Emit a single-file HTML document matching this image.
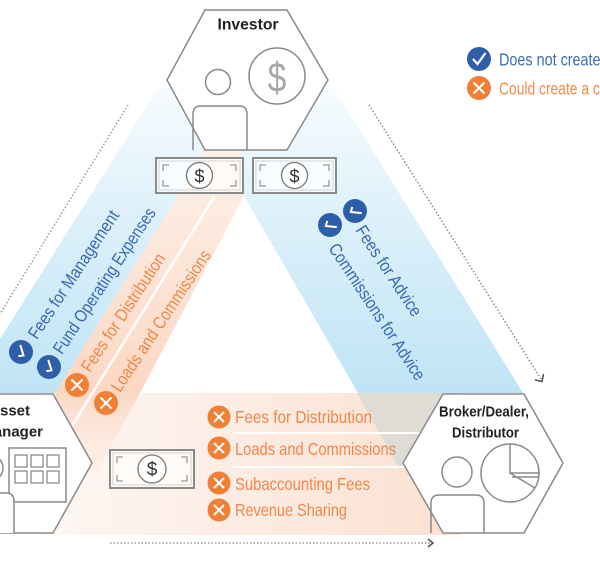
<!DOCTYPE html>
<html><head><meta charset="utf-8">
<style>
html,body{margin:0;padding:0;background:#fff;width:600px;height:561px;overflow:hidden}
svg{display:block}
text{font-family:"Liberation Sans",sans-serif}
</style></head><body>
<svg width="600" height="561" viewBox="0 0 600 561" xmlns="http://www.w3.org/2000/svg">
<defs>
<linearGradient id="bg" gradientUnits="userSpaceOnUse" x1="0" y1="90" x2="0" y2="393">
<stop offset="0" stop-color="#f6fbfe"/>
<stop offset="0.4" stop-color="#def1fa"/>
<stop offset="1" stop-color="#bfe4f5"/>
</linearGradient>
<linearGradient id="og" gradientUnits="userSpaceOnUse" x1="0" y1="150" x2="0" y2="485">
<stop offset="0" stop-color="#fdf1ea"/>
<stop offset="0.72" stop-color="#fbd8c3"/>
<stop offset="1" stop-color="#fbe3d6" stop-opacity="0"/>
</linearGradient>
<linearGradient id="hg" gradientUnits="userSpaceOnUse" x1="60" y1="0" x2="450" y2="0">
<stop offset="0" stop-color="#fdf6f2"/>
<stop offset="1" stop-color="#fbe1d2"/>
</linearGradient>
</defs>

<polygon points="158,88 334,88 523,393 -34,393" fill="url(#bg)"/>
<rect x="40" y="393" width="420" height="142" fill="url(#hg)"/>
<polygon points="357,393 445,393 404,463 400,470" fill="#dedcd4"/>
<polygon points="205,150 241,150 245,198 140,393 98,470 62,470 55,393 177,197" fill="url(#og)"/>
<polygon points="244,196 140,393 358,393" fill="#ffffff"/>
<line x1="214" y1="197" x2="72" y2="426" stroke="#ffffff" stroke-width="2.5"/>
<line x1="233" y1="433" x2="421" y2="433" stroke="#ffffff" stroke-width="2"/>
<line x1="233" y1="467" x2="406" y2="467" stroke="#ffffff" stroke-width="2"/>

<line x1="128" y1="105" x2="-8" y2="327" stroke="#9a9a9a" stroke-width="1.5" stroke-dasharray="1.5 2"/>
<line x1="369" y1="105" x2="541" y2="379" stroke="#8a8a8a" stroke-width="1.5" stroke-dasharray="1.5 2"/>
<polyline points="543.5,374 542,381.5 535,380" fill="none" stroke="#555" stroke-width="1.6"/>
<line x1="110" y1="543" x2="431" y2="543" stroke="#9a9a9a" stroke-width="1.5" stroke-dasharray="1.5 2"/>
<polyline points="428,539 433,543 428,547" fill="none" stroke="#555" stroke-width="1.6"/>

<polygon points="205,10 287,10 328,80 287,150 205,150 167,80" fill="#ffffff" stroke="#8a8a8a" stroke-width="1.5"/>
<text x="248" y="25" text-anchor="middle" dominant-baseline="central" font-weight="bold" font-size="16" textLength="61" lengthAdjust="spacingAndGlyphs" fill="#222">Investor</text>
<circle cx="218" cy="82" r="12.5" fill="none" stroke="#8a8a8a" stroke-width="1.5"/>
<path d="M193,150 V114 Q193,106 201,106 H239 Q247,106 247,114 V150" fill="none" stroke="#8a8a8a" stroke-width="1.5"/>
<circle cx="277" cy="76" r="28" fill="none" stroke="#8a8a8a" stroke-width="1.5"/>
<text transform="translate(277,78) scale(0.8,1)" text-anchor="middle" dominant-baseline="central" font-size="42" fill="#a8a8a8">$</text>

<polygon points="-29,394 53,394 92,463 53,533 -29,533 -68,463" fill="#ffffff" stroke="#8a8a8a" stroke-width="1.5"/>
<text x="30" y="411" text-anchor="end" dominant-baseline="central" font-weight="bold" font-size="15" fill="#222">Asset</text>
<text x="43" y="432" text-anchor="end" dominant-baseline="central" font-weight="bold" font-size="15" fill="#222">Manager</text>
<circle cx="-10" cy="468" r="13" fill="none" stroke="#8a8a8a" stroke-width="1.5"/>
<rect x="9" y="448" width="57" height="54" fill="#ffffff" stroke="#8a8a8a" stroke-width="1.5"/>
<g fill="none" stroke="#8a8a8a" stroke-width="1.3">
<rect x="15" y="455" width="12" height="12"/><rect x="31" y="455" width="12" height="12"/><rect x="47" y="455" width="12" height="12"/>
<rect x="15" y="471" width="12" height="12"/><rect x="31" y="471" width="12" height="12"/><rect x="47" y="471" width="12" height="12"/>
</g>
<path d="M-40,533 V501 Q-40,493 -32,493 H6 Q14,493 14,501 V533" fill="#ffffff" stroke="#8a8a8a" stroke-width="1.5"/>

<polygon points="443,394 524,394 563,463 524,533 443,533 403,463" fill="#ffffff" stroke="#8a8a8a" stroke-width="1.5"/>
<text x="484" y="412" text-anchor="middle" dominant-baseline="central" font-weight="bold" font-size="15" textLength="90" lengthAdjust="spacingAndGlyphs" fill="#222">Broker/Dealer,</text>
<text x="485.5" y="433" text-anchor="middle" dominant-baseline="central" font-weight="bold" font-size="15" textLength="67" lengthAdjust="spacingAndGlyphs" fill="#222">Distributor</text>
<circle cx="457" cy="472" r="15" fill="none" stroke="#8a8a8a" stroke-width="1.5"/>
<path d="M431,533 V503 Q431,495 439,495 H476 Q484,495 484,503 V533" fill="none" stroke="#8a8a8a" stroke-width="1.5"/>
<circle cx="510" cy="473" r="29" fill="none" stroke="#8a8a8a" stroke-width="1.5"/>
<path d="M510,444 V473 L539,473 M510,473 L535,488 M512,477 L538,477" fill="none" stroke="#8a8a8a" stroke-width="1.5"/>

<g>
<rect x="156" y="158" width="87" height="35" fill="#ffffff" fill-opacity="0.7" stroke="#8a8a8a" stroke-width="2"/>
<rect x="159" y="161" width="81" height="29" fill="none" stroke="#c8c8c8" stroke-width="0.8"/>
<path d="M163,171 V165 H169 M230,165 H236 V171 M163,180 V186 H169 M230,186 H236 V180" fill="none" stroke="#999" stroke-width="1.3"/>
<circle cx="199.5" cy="175.5" r="13" fill="#ffffff" stroke="#777" stroke-width="1.3"/>
<text x="199.5" y="176.5" text-anchor="middle" dominant-baseline="central" font-size="18" fill="#333">$</text>
</g>
<g>
<rect x="253" y="158" width="83" height="35" fill="#ffffff" fill-opacity="0.7" stroke="#8a8a8a" stroke-width="2"/>
<rect x="256" y="161" width="77" height="29" fill="none" stroke="#c8c8c8" stroke-width="0.8"/>
<path d="M260,171 V165 H266 M323,165 H329 V171 M260,180 V186 H266 M323,186 H329 V180" fill="none" stroke="#999" stroke-width="1.3"/>
<circle cx="294.5" cy="175.5" r="13" fill="#ffffff" stroke="#777" stroke-width="1.3"/>
<text x="294.5" y="176.5" text-anchor="middle" dominant-baseline="central" font-size="18" fill="#333">$</text>
</g>
<g>
<rect x="110" y="450" width="84" height="38" fill="#ffffff" fill-opacity="0.7" stroke="#8a8a8a" stroke-width="2"/>
<rect x="113" y="453" width="78" height="32" fill="none" stroke="#c8c8c8" stroke-width="0.8"/>
<path d="M117,463 V457 H123 M181,457 H187 V463 M117,475 V481 H123 M181,481 H187 V475" fill="none" stroke="#999" stroke-width="1.3"/>
<circle cx="152" cy="469" r="14" fill="#ffffff" stroke="#777" stroke-width="1.3"/>
<text x="152" y="470" text-anchor="middle" dominant-baseline="central" font-size="19" fill="#333">$</text>
</g>

<g transform="translate(21,352) rotate(-56.5)"><circle r="12" fill="#2f5ea8"/><path d="M-5,0 L-1.5,4 L5.5,-4.5" fill="none" stroke="#fff" stroke-width="2"/></g>
<g transform="translate(49,367) rotate(-56.5)"><circle r="12" fill="#2f5ea8"/><path d="M-5,0 L-1.5,4 L5.5,-4.5" fill="none" stroke="#fff" stroke-width="2"/></g>
<g transform="translate(77,385)"><circle r="12" fill="#ef8036"/><path d="M-5.5,-5.5 L5.5,5.5 M5.5,-5.5 L-5.5,5.5" stroke="#fff" stroke-width="2"/></g>
<g transform="translate(106,403)"><circle r="12" fill="#ef8036"/><path d="M-5.5,-5.5 L5.5,5.5 M5.5,-5.5 L-5.5,5.5" stroke="#fff" stroke-width="2"/></g>
<text transform="translate(32,337) rotate(-56.5)" dominant-baseline="central" font-size="17.5" textLength="150" lengthAdjust="spacingAndGlyphs" fill="#3a68b0">Fees for Management</text>
<text transform="translate(57,352) rotate(-56.5)" dominant-baseline="central" font-size="17.5" textLength="171" lengthAdjust="spacingAndGlyphs" fill="#3a68b0">Fund Operating Expenses</text>
<text transform="translate(85,370) rotate(-56.5)" dominant-baseline="central" font-size="17.5" textLength="138" lengthAdjust="spacingAndGlyphs" fill="#f0874a">Fees for Distribution</text>
<text transform="translate(115,390) rotate(-56.5)" dominant-baseline="central" font-size="17.5" textLength="166" lengthAdjust="spacingAndGlyphs" fill="#f0874a">Loads and Commissions</text>

<g transform="translate(355,211) rotate(56.5)"><circle r="12" fill="#2f5ea8"/><path d="M-5,0 L-1.5,4 L5.5,-4.5" fill="none" stroke="#fff" stroke-width="2"/></g>
<g transform="translate(330,225) rotate(56.5)"><circle r="12" fill="#2f5ea8"/><path d="M-5,0 L-1.5,4 L5.5,-4.5" fill="none" stroke="#fff" stroke-width="2"/></g>
<text transform="translate(360,227) rotate(56.5)" dominant-baseline="central" font-size="17.5" textLength="105" lengthAdjust="spacingAndGlyphs" fill="#3a68b0">Fees for Advice</text>
<text transform="translate(333,245) rotate(56.5)" dominant-baseline="central" font-size="17.5" textLength="160" lengthAdjust="spacingAndGlyphs" fill="#3a68b0">Commissions for Advice</text>

<g fill="#ef8036">
<circle cx="219" cy="417" r="11.5"/><circle cx="219" cy="448" r="11.5"/><circle cx="219" cy="483" r="11.5"/><circle cx="219" cy="510" r="11.5"/>
</g>
<path d="M214,412 L224,422 M224,412 L214,422 M214,443 L224,453 M224,443 L214,453 M214,478 L224,488 M224,478 L214,488 M214,505 L224,515 M224,505 L214,515" stroke="#fff" stroke-width="2"/>
<text x="235" y="417" dominant-baseline="central" font-size="17.5" textLength="137" lengthAdjust="spacingAndGlyphs" fill="#f0874a">Fees for Distribution</text>
<text x="235" y="449" dominant-baseline="central" font-size="17.5" textLength="161" lengthAdjust="spacingAndGlyphs" fill="#f0874a">Loads and Commissions</text>
<text x="235" y="484" dominant-baseline="central" font-size="17.5" textLength="135" lengthAdjust="spacingAndGlyphs" fill="#f0874a">Subaccounting Fees</text>
<text x="235" y="510" dominant-baseline="central" font-size="17.5" textLength="112" lengthAdjust="spacingAndGlyphs" fill="#f0874a">Revenue Sharing</text>

<circle cx="479" cy="59" r="12" fill="#2f5ea8"/>
<path d="M473,59 L477.5,64 L485.5,53" fill="none" stroke="#fff" stroke-width="2.2"/>
<circle cx="479" cy="88" r="12" fill="#ef8036"/>
<path d="M473.5,82.5 L484.5,93.5 M484.5,82.5 L473.5,93.5" stroke="#fff" stroke-width="2"/>
<text transform="translate(499,60) scale(0.8,1)" dominant-baseline="central" font-size="18" fill="#3d6bb3">Does not create a conflict of interest</text>
<text transform="translate(499,89) scale(0.77,1)" dominant-baseline="central" font-size="18" fill="#f0884a">Could create a conflict of interest</text>
</svg>
</body></html>
